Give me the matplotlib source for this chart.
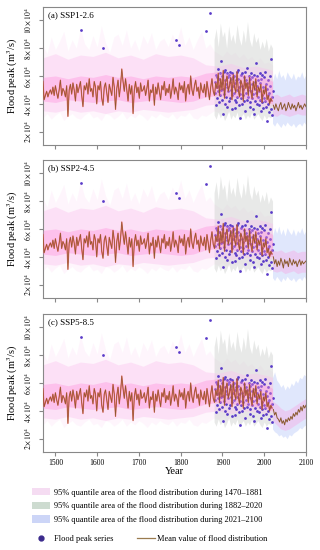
import matplotlib
matplotlib.use('Agg')
import matplotlib.pyplot as plt
from matplotlib.patches import Patch
from matplotlib.lines import Line2D
import numpy as np

plt.rcParams['font.family'] = ['Liberation Serif', 'DejaVu Serif']
plt.rcParams['mathtext.fontset'] = 'stix'

# all flood values in units of 10^4 m3/s
hist_years = np.arange(1470, 2020, 3)
hist_mean = [
    5.6, 4.3, 4.6, 4.9, 4.5, 4.8, 5.0, 4.7, 5.2, 4.6,
    5.3, 4.8, 4.4, 5.0, 5.7, 4.6, 5.1, 4.9, 4.5, 5.3,
    3.1, 5.0, 5.4, 4.7, 5.5, 5.0, 4.2, 5.4, 4.8, 5.2,
    5.6, 4.6, 3.8, 5.3, 5.0, 5.5, 4.7, 5.8, 4.9, 5.1,
    4.5, 5.6, 5.2, 4.0, 5.3, 5.0, 5.6, 4.4, 3.9, 5.2,
    5.5, 4.8, 4.1, 5.4, 5.0, 4.6, 5.9, 5.2, 3.6, 5.1,
    5.7, 4.5, 5.3, 6.5, 5.6, 4.9, 5.8, 5.0, 4.2, 5.4,
    4.7, 5.3, 3.3, 5.0, 5.6, 4.8, 5.2, 4.4, 5.5, 4.9,
    5.0, 5.3, 4.6, 5.1, 5.7, 4.2, 5.0, 4.8, 5.4, 3.9,
    5.2, 4.7, 5.5, 4.9, 4.3, 5.3, 5.0, 5.6, 4.6, 5.1,
    4.8, 5.4, 4.4, 5.0, 5.8, 4.7, 5.2, 4.9, 4.3, 5.5,
    5.0, 5.3, 4.8, 5.6, 4.2, 5.1, 5.4, 4.7, 6.0, 5.0,
    4.6, 5.3, 5.7, 4.9, 5.2, 4.4, 5.5, 5.0, 4.8, 5.4,
    4.5, 5.6, 5.0, 4.3, 5.2, 5.8, 4.9, 4.6, 5.5, 5.1,
    6.2, 4.6, 5.8, 5.0, 6.4, 4.4, 5.6, 6.0, 4.9, 5.3,
    5.9, 4.3, 6.1, 5.2, 4.8, 6.3, 5.0, 4.5, 5.7, 5.4,
    4.2, 6.0, 5.1, 5.5, 4.6, 5.9, 4.9, 4.4, 5.6, 5.0,
    5.8, 4.5, 5.2, 4.9, 5.4, 4.1, 5.0, 4.7, 5.3, 4.3,
    4.6, 4.0, 4.4, 4.2,
]

fut_years = np.arange(2022, 2101, 3)
fut_mean = {
    'a': [3.9, 3.6, 4.0, 3.7, 3.5, 3.9, 4.1, 3.6, 3.8, 4.0, 3.5, 3.7, 4.1, 3.8,
          3.6, 4.0, 3.7, 3.9, 3.5, 3.8, 4.1, 3.7, 3.9, 3.6, 3.8, 4.0, 3.8],
    'b': [4.0, 3.5, 3.8, 3.3, 3.7, 3.4, 3.9, 3.6, 3.2, 3.8, 3.5, 3.7, 3.3, 3.9,
          3.6, 3.4, 3.8, 3.5, 3.7, 3.3, 3.6, 3.8, 3.4, 3.7, 3.5, 3.6, 3.7],
    'c': [4.1, 3.7, 3.9, 3.5, 3.4, 3.2, 3.5, 3.1, 3.3, 3.0, 3.4, 3.2, 3.5, 3.3,
          3.6, 3.4, 3.8, 3.6, 3.9, 3.7, 4.1, 3.9, 4.3, 4.0, 4.4, 4.2, 4.4],
}

# faint outer pink envelope 1470-2020
pink_years = np.arange(1470, 2021, 10)
pink_hi = [
    8.2, 7.6, 8.8, 7.9, 8.5, 9.2, 7.8, 8.6, 8.0, 9.4,
    8.3, 7.9, 8.9, 8.1, 9.6, 8.4, 7.7, 8.8, 9.0, 8.2,
    9.3, 8.0, 8.6, 7.8, 8.9, 8.3, 9.1, 7.9, 8.5, 8.7,
    8.1, 9.0, 8.4, 9.5, 8.2, 8.8, 7.9, 8.6, 9.2, 8.0,
    8.3, 7.8, 7.6, 7.4, 7.8, 7.5, 7.7, 7.3, 7.6, 7.2,
    7.4, 7.0, 7.3, 6.9, 7.0, 6.8,
]
pink_lo = [
    3.0, 3.3, 2.9, 3.2, 3.4, 2.8, 3.1, 3.3, 3.0, 2.9,
    3.2, 3.4, 3.0, 3.1, 2.8, 3.3, 3.2, 2.9, 3.1, 3.4,
    2.9, 3.2, 3.0, 3.3, 3.1, 2.8, 3.2, 3.0, 3.3, 3.1,
    3.0, 3.3, 2.9, 3.2, 3.1, 3.4, 3.0, 2.9, 3.2, 3.1,
    3.3, 3.5, 3.4, 3.6, 3.3, 3.5, 3.4, 3.6, 3.3, 3.5,
    3.4, 3.6, 3.3, 3.5, 3.4, 3.5,
]

# inner pink bands
core_years = [1470, 1500, 1530, 1560, 1590, 1620, 1650, 1680, 1710, 1740,
              1770, 1800, 1830, 1860, 1890, 1920, 1950, 1980, 2010, 2020]
mid_hi = [7.3, 7.6, 7.2, 7.5, 7.4, 7.7, 7.3, 7.5, 7.2, 7.6,
          7.4, 7.5, 7.3, 6.8, 6.7, 6.9, 6.6, 6.7, 6.5, 6.4]
mid_lo = [3.5, 3.4, 3.6, 3.4, 3.5, 3.3, 3.5, 3.4, 3.6, 3.5,
          3.4, 3.5, 3.6, 3.9, 4.0, 3.8, 4.0, 3.9, 3.8, 3.9]
core_hi = [5.9, 6.0, 5.8, 6.0, 5.9, 6.1, 5.9, 6.0, 5.8, 6.0,
           5.9, 6.0, 5.9, 6.2, 6.3, 6.2, 6.1, 6.0, 5.8, 5.6]
core_lo = [4.2, 4.1, 4.3, 4.2, 4.1, 4.2, 4.3, 4.1, 4.2, 4.3,
           4.2, 4.1, 4.2, 4.5, 4.6, 4.5, 4.4, 4.3, 4.1, 4.0]

# grey band 1882-2020
gray_years = np.arange(1880, 2021, 5)
gray_hi = [8.6, 9.4, 8.1, 9.8, 8.8, 9.2, 8.0, 9.6, 8.5, 9.0, 8.3, 9.7, 8.7, 8.2, 9.3,
           8.4, 9.9, 8.6, 8.1, 9.1, 8.4, 8.8, 7.9, 8.5, 8.0, 8.7, 7.8, 8.3, 8.0]
gray_lo = [3.2, 2.9, 3.4, 3.0, 3.3, 2.8, 3.1, 3.5, 2.9, 3.2, 3.0, 3.4, 2.8, 3.1, 3.3,
           2.9, 3.2, 3.0, 3.4, 2.9, 3.1, 3.3, 3.0, 2.8, 3.2, 2.9, 3.1, 3.0, 3.2]

# blue band 2021-2100
blue_years = np.arange(2020, 2101, 5)
blue_hi = {
    'a': [5.6, 6.2, 5.8, 6.4, 5.9, 6.1, 5.7, 6.3, 6.0, 5.8, 6.2, 5.7, 6.0, 5.9, 6.3, 5.8, 6.1],
    'b': [5.5, 6.1, 5.7, 6.2, 5.6, 6.0, 5.5, 6.1, 5.8, 5.6, 6.0, 5.5, 5.9, 5.7, 6.1, 5.6, 5.9],
    'c': [6.4, 6.8, 6.2, 6.0, 5.7, 5.9, 5.5, 5.8, 5.6, 6.0, 5.8, 6.2, 6.0, 6.4, 6.3, 6.6, 6.5],
}
blue_lo = {
    'a': [2.6, 2.4, 2.7, 2.5, 2.3, 2.6, 2.4, 2.7, 2.5, 2.4, 2.6, 2.3, 2.5, 2.6, 2.4, 2.7, 2.5],
    'b': [2.5, 2.3, 2.6, 2.4, 2.2, 2.5, 2.3, 2.6, 2.4, 2.3, 2.5, 2.2, 2.4, 2.5, 2.3, 2.6, 2.4],
    'c': [2.7, 2.5, 2.4, 2.2, 2.3, 2.1, 2.2, 2.0, 2.3, 2.2, 2.4, 2.5, 2.6, 2.8, 2.7, 2.9, 3.0],
}
fut_core_years = np.arange(2020, 2101, 10)
fut_core_hi = {
    'a': [4.6, 4.7, 4.5, 4.6, 4.7, 4.5, 4.6, 4.7, 4.6],
    'b': [4.5, 4.4, 4.5, 4.3, 4.4, 4.5, 4.3, 4.4, 4.4],
    'c': [4.7, 4.5, 4.2, 4.0, 4.1, 4.3, 4.5, 4.7, 4.9],
}
fut_core_lo = {
    'a': [3.2, 3.1, 3.3, 3.2, 3.1, 3.2, 3.3, 3.2, 3.2],
    'b': [3.0, 2.9, 3.0, 2.8, 2.9, 3.0, 2.8, 2.9, 2.9],
    'c': [3.3, 3.0, 2.7, 2.6, 2.7, 2.9, 3.1, 3.3, 3.5],
}

# observed and historical flood peaks
obs_years = np.arange(1882, 2021)
obs_peaks = [
    4.8, 5.6, 3.9, 6.1, 5.2, 4.4, 5.9, 4.9, 6.5, 5.3,
    4.1, 5.8, 6.2, 4.6, 7.1, 5.0, 4.3, 5.5, 6.0, 3.3,
    5.1, 6.3, 4.7, 5.7, 4.0, 6.4, 5.4, 4.5, 6.2, 5.2,
    3.8, 5.9, 4.9, 6.1, 4.2, 5.6, 6.3, 4.4, 5.0, 5.8,
    4.6, 6.2, 3.6, 5.3, 5.9, 4.8, 6.0, 4.3, 5.5, 3.7,
    5.7, 4.1, 6.3, 5.0, 4.5, 5.8, 6.4, 3.9, 5.2, 4.7,
    3.0, 5.6, 6.1, 4.4, 5.3, 4.0, 6.2, 5.1, 4.6, 5.9,
    4.2, 5.4, 6.3, 3.5, 5.7, 4.8, 6.6, 4.3, 5.5, 5.0,
    4.5, 6.0, 5.2, 3.8, 5.8, 4.1, 6.2, 4.9, 5.4, 4.4,
    5.9, 3.6, 4.7, 6.1, 3.3, 5.1, 4.2, 5.6, 4.8, 6.95,
    4.0, 5.3, 6.0, 4.5, 5.7, 3.9, 4.9, 6.2, 4.3, 5.5,
    3.5, 5.8, 4.6, 6.1, 4.1, 5.2, 3.7, 5.9, 4.4, 5.0,
    6.3, 4.2, 5.4, 3.8, 2.8, 5.1, 4.6, 5.7, 4.0, 4.8,
    3.4, 5.3, 4.3, 6.0, 3.6, 7.2, 4.5, 3.2, 4.9,
]
hist_flood_years = [1561, 1614, 1789, 1797, 1861, 1871]
hist_flood_peaks = [9.3, 8.0, 8.6, 8.2, 9.2, 10.55]

panels = [('a', '(a) SSP1-2.6'), ('b', '(b) SSP2-4.5'), ('c', '(c) SSP5-8.5')]
yticks = [2, 4, 6, 8, 10]
ytick_labels = [r'$%d\times10^4$' % v for v in yticks]
xticks = [1500, 1600, 1700, 1800, 1900, 2000, 2100]

PINK = '#fbc2ee'
CORE = '#ff8fdc'
GRAY = '#cdd0cd'
BLUE = '#c2d0fa'
DOT = '#5b3cc9'
RED = '#e8473c'
BROWN = '#8a5a2e'

fig = plt.figure(figsize=(3.2, 5.5), dpi=100)
bottoms = [0.7364, 0.4582, 0.1782]

for (key, title), bottom in zip(panels, bottoms):
    ax = fig.add_axes([0.134, bottom, 0.822, 0.251])

    ax.fill_between(pink_years, pink_lo, pink_hi, color=PINK, alpha=0.15, lw=0, zorder=1)
    ax.fill_between(gray_years, gray_lo, gray_hi, color=GRAY, alpha=0.45, lw=0, zorder=1)
    ax.fill_between(blue_years, blue_lo[key], blue_hi[key], color=BLUE, alpha=0.5, lw=0, zorder=1)
    ax.fill_between(core_years, mid_lo, mid_hi, color=PINK, alpha=0.4, lw=0, zorder=2)
    ax.fill_between(fut_core_years, fut_core_lo[key], fut_core_hi[key], color=CORE,
                    alpha=0.3, lw=0, zorder=2)

    ax.scatter(obs_years, obs_peaks, s=4, color=DOT, lw=0, zorder=3)
    ax.scatter(hist_flood_years, hist_flood_peaks, s=4, color=DOT, lw=0, zorder=3)

    ax.fill_between(core_years, core_lo, core_hi, color=CORE, alpha=0.38, lw=0, zorder=4)

    ax.plot(hist_years, hist_mean, color=RED, lw=0.9, alpha=0.75, zorder=5)
    ax.plot(hist_years, hist_mean, color=BROWN, lw=0.45, zorder=6)
    ax.plot(fut_years, fut_mean[key], color=BROWN, lw=0.7, zorder=6)

    ax.set_xlim(1470, 2100)
    ax.set_ylim(1.05, 10.95)
    ax.set_yticks(yticks)
    ax.set_yticklabels(ytick_labels, rotation=90, va='center', fontsize=5.5)
    ax.set_xticks(xticks)
    for s in ax.spines.values():
        s.set_color('#888888')
        s.set_linewidth(0.8)
    ax.tick_params(colors='#888888', labelcolor='black', length=3, width=0.8, pad=2)
    ax.tick_params(axis='y', pad=4)
    ax.set_ylabel(r'Flood peak (m$^3$/s)', fontsize=7.5, labelpad=2)
    ax.text(0.02, 0.97, title, transform=ax.transAxes, ha='left', va='top', fontsize=6.5)
    if key == 'c':
        ax.set_xticklabels([str(x) for x in xticks], fontsize=5.5)
        ax.set_xlabel('Year', fontsize=7.5, labelpad=0)
    else:
        ax.set_xticklabels([])

patch_labels = [
    '95% quantile area of the flood distribution during 1470\u20131881',
    '95% quantile area of the flood distribution during 1882\u20132020',
    '95% quantile area of the flood distribution during 2021\u20132100',
]
patch_handles = [
    Patch(facecolor='#f5dcf2', edgecolor='none'),
    Patch(facecolor='#cddbd0', edgecolor='none'),
    Patch(facecolor='#ccd5f7', edgecolor='none'),
]
leg1 = fig.legend(patch_handles, patch_labels, loc='upper left',
                  bbox_to_anchor=(0.1, 1 - 488 / 550), frameon=False, fontsize=6,
                  handlelength=2.2, handleheight=1.0, handletextpad=0.4,
                  labelspacing=0.6, borderpad=0, borderaxespad=0)
dot_handle = Line2D([], [], marker='o', ls='none', color='#3b2a8c', markersize=3.5)
leg2 = fig.legend([dot_handle], ['Flood peak series'], loc='center left',
                  bbox_to_anchor=(0.1, 1 - 539 / 550), frameon=False, fontsize=6,
                  handlelength=2.2, handletextpad=0.4, borderpad=0, borderaxespad=0)
line_handle = Line2D([], [], color='#9a7b4f', lw=0.9)
leg3 = fig.legend([line_handle], ['Mean value of flood distribution'], loc='center left',
                  bbox_to_anchor=(137 / 320, 1 - 539 / 550), frameon=False, fontsize=6,
                  handlelength=2.2, handletextpad=0.2, borderpad=0, borderaxespad=0)

fig.savefig('out.png', dpi=100)
